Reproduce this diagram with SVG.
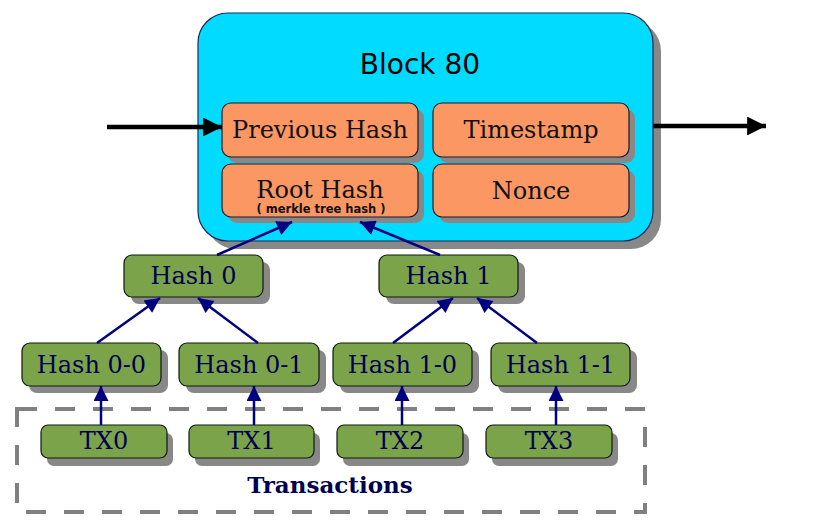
<svg xmlns="http://www.w3.org/2000/svg" width="829" height="531" viewBox="0 0 829 531">
<style>
.shadow{fill:#888888}
.field{fill:#fb9762;stroke:#1a1a2a;stroke-width:1.2}
.green{fill:#7ba44a;stroke:#0d1a0d;stroke-width:1.2}
.ft{font-family:"DejaVu Serif",serif;font-size:24px;fill:#111111;text-anchor:middle}
.gt{font-family:"DejaVu Serif",serif;font-size:24px;fill:#000050;text-anchor:middle}
.nv{stroke:#000080;stroke-width:2.5;fill:none}
.bk{stroke:#000000;stroke-width:4.5;fill:none}
</style>
<defs>
<marker id="ah" viewBox="0 0 10 10" refX="10" refY="5" markerWidth="7" markerHeight="6" orient="auto" markerUnits="strokeWidth">
<path d="M0,0 L10,5 L0,10 z" fill="#000080"/>
</marker>
<marker id="bh" viewBox="0 0 10 10" refX="10" refY="5" markerWidth="6" markerHeight="4.2" orient="auto" markerUnits="strokeWidth">
<path d="M0,0 L10,5 L0,10 z" fill="#000000"/>
</marker>
</defs>
<rect width="829" height="531" fill="#ffffff"/>

<g id="transactions-group">
<rect x="17" y="409" width="628" height="103" fill="none" stroke="#808080" stroke-width="4" stroke-dasharray="20,18"/>
<text x="330" y="493" font-family="DejaVu Serif,serif" font-weight="bold" font-size="23" fill="#000050" text-anchor="middle">Transactions</text>
</g>

<g id="block80">
<rect class="shadow" x="206" y="21" width="455" height="228" rx="30"/>
<rect x="198" y="13" width="455" height="228" rx="30" fill="#00dbff" stroke="#1a2a5a" stroke-width="1.2"/>
<text x="420" y="74" font-family="DejaVu Sans,sans-serif" font-size="28" fill="#000000" text-anchor="middle">Block 80</text>
</g>

<g id="previous-hash">
<rect class="shadow" x="228" y="109" width="196" height="54" rx="9"/>
<rect class="field" x="222" y="103" width="196" height="54" rx="9"/>
<text class="ft" x="320" y="138">Previous Hash</text>
</g>
<g id="timestamp">
<rect class="shadow" x="439" y="109" width="196" height="54" rx="9"/>
<rect class="field" x="433" y="103" width="196" height="54" rx="9"/>
<text class="ft" x="531" y="138">Timestamp</text>
</g>
<g id="root-hash">
<rect class="shadow" x="228" y="170" width="196" height="53" rx="9"/>
<rect class="field" x="222" y="164" width="196" height="53" rx="9"/>
<text class="ft" x="320" y="198">Root Hash</text>
<text x="321" y="213" font-family="DejaVu Sans,sans-serif" font-weight="bold" font-size="11.5" fill="#111111" text-anchor="middle">( merkle tree hash )</text>
</g>
<g id="nonce">
<rect class="shadow" x="439" y="170" width="196" height="53" rx="9"/>
<rect class="field" x="433" y="164" width="196" height="53" rx="9"/>
<text class="ft" x="531" y="199">Nonce</text>
</g>

<g id="hash0">
<rect class="shadow" x="131" y="262" width="139" height="42" rx="8"/>
<rect class="green" x="124" y="255" width="139" height="42" rx="8"/>
<text class="gt" x="193.5" y="284">Hash 0</text>
</g>
<g id="hash1">
<rect class="shadow" x="386" y="262" width="139" height="42" rx="8"/>
<rect class="green" x="379" y="255" width="139" height="42" rx="8"/>
<text class="gt" x="448.5" y="284">Hash 1</text>
</g>
<g id="hash0-0">
<rect class="shadow" x="29" y="350" width="139" height="43" rx="8"/>
<rect class="green" x="22" y="343" width="139" height="43" rx="8"/>
<text class="gt" x="91.5" y="373">Hash 0-0</text>
</g>
<g id="hash0-1">
<rect class="shadow" x="186" y="350" width="140" height="43" rx="8"/>
<rect class="green" x="179" y="343" width="140" height="43" rx="8"/>
<text class="gt" x="249" y="373">Hash 0-1</text>
</g>
<g id="hash1-0">
<rect class="shadow" x="340" y="350" width="139" height="43" rx="8"/>
<rect class="green" x="333" y="343" width="139" height="43" rx="8"/>
<text class="gt" x="402.5" y="373">Hash 1-0</text>
</g>
<g id="hash1-1">
<rect class="shadow" x="498" y="350" width="139" height="43" rx="8"/>
<rect class="green" x="491" y="343" width="139" height="43" rx="8"/>
<text class="gt" x="560.5" y="373">Hash 1-1</text>
</g>
<g id="tx0">
<rect class="shadow" x="47" y="433" width="126" height="33" rx="7"/>
<rect class="green" x="41" y="425" width="126" height="33" rx="7"/>
<text class="gt" x="104" y="449">TX0</text>
</g>
<g id="tx1">
<rect class="shadow" x="195" y="433" width="125" height="33" rx="7"/>
<rect class="green" x="189" y="425" width="125" height="33" rx="7"/>
<text class="gt" x="251.5" y="449">TX1</text>
</g>
<g id="tx2">
<rect class="shadow" x="343" y="433" width="126" height="33" rx="7"/>
<rect class="green" x="337" y="425" width="126" height="33" rx="7"/>
<text class="gt" x="400" y="449">TX2</text>
</g>
<g id="tx3">
<rect class="shadow" x="492" y="433" width="126" height="33" rx="7"/>
<rect class="green" x="486" y="425" width="126" height="33" rx="7"/>
<text class="gt" x="549" y="449">TX3</text>
</g>

<g id="connectors">
<line class="bk" x1="107" y1="127" x2="222" y2="127" marker-end="url(#bh)"/>
<line class="bk" x1="653" y1="126" x2="766" y2="126" marker-end="url(#bh)"/>
<line class="nv" x1="217" y1="255" x2="292" y2="222" marker-end="url(#ah)"/>
<line class="nv" x1="440" y1="255" x2="360" y2="222" marker-end="url(#ah)"/>
<line class="nv" x1="97" y1="343" x2="160" y2="298" marker-end="url(#ah)"/>
<line class="nv" x1="258" y1="343" x2="198" y2="298" marker-end="url(#ah)"/>
<line class="nv" x1="393" y1="343" x2="453" y2="298" marker-end="url(#ah)"/>
<line class="nv" x1="537" y1="343" x2="477" y2="298" marker-end="url(#ah)"/>
<line class="nv" x1="101" y1="425" x2="101" y2="386" marker-end="url(#ah)"/>
<line class="nv" x1="254" y1="425" x2="254" y2="386" marker-end="url(#ah)"/>
<line class="nv" x1="402" y1="425" x2="402" y2="386" marker-end="url(#ah)"/>
<line class="nv" x1="556" y1="425" x2="556" y2="386" marker-end="url(#ah)"/>
</g>
</svg>
